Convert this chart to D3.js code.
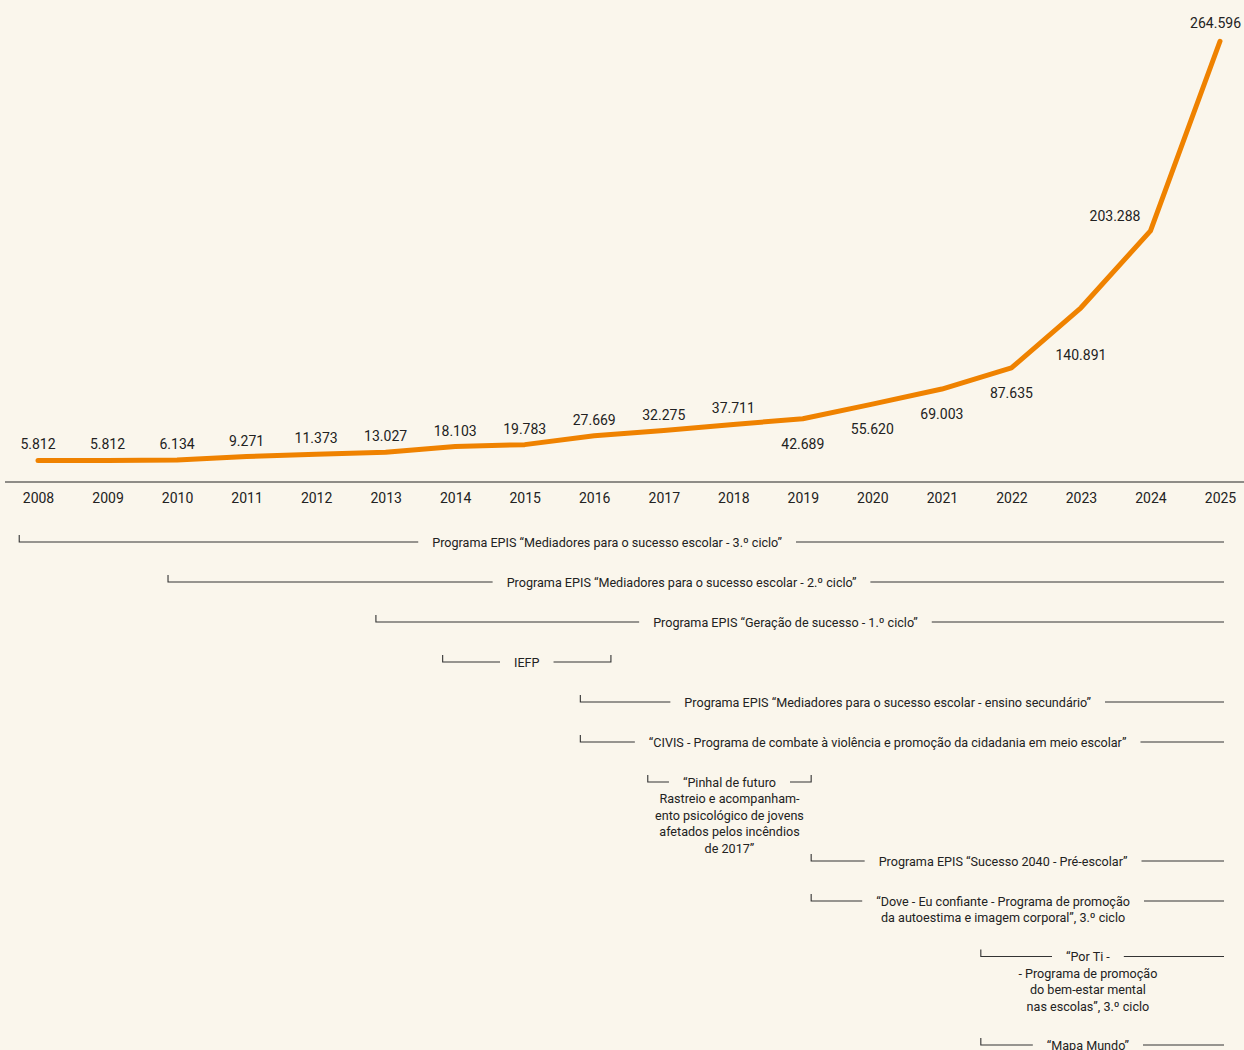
<!DOCTYPE html>
<html>
<head>
<meta charset="utf-8">
<script src="https://cdn.jsdelivr.net/npm/d3@7"></script>
<style>
  body { margin: 0; background: #faf6ec; }
  svg { display: block; }
  text { font-family: Roboto, "Noto Sans", sans-serif; fill: #222; }
</style>
</head>
<body>
<div class="chart"></div>
<script>
// yearly values
const years = [2008, 2009, 2010, 2011, 2012, 2013, 2014, 2015, 2016, 2017, 2018, 2019, 2020, 2021, 2022, 2023, 2024, 2025];
const values = [5812, 5812, 6134, 9271, 11373, 13027, 18103, 19783, 27669, 32275, 37711, 42689, 55620, 69003, 87635, 140891, 203288, 264596];

// programmes shown under the axis (start / end as fractional years, null = still running)
const programNames = [
  ['Programa EPIS “Mediadores para o sucesso escolar - 3.º ciclo”'],
  ['Programa EPIS “Mediadores para o sucesso escolar - 2.º ciclo”'],
  ['Programa EPIS “Geração de sucesso - 1.º ciclo”'],
  ['IEFP'],
  ['Programa EPIS “Mediadores para o sucesso escolar - ensino secundário”'],
  ['“CIVIS - Programa de combate à violência e promoção da cidadania em meio escolar”'],
  ['“Pinhal de futuro', 'Rastreio e acompanham-', 'ento psicológico de jovens', 'afetados pelos incêndios', 'de 2017”'],
  ['Programa EPIS “Sucesso 2040 - Pré-escolar”'],
  ['“Dove - Eu confiante - Programa de promoção', 'da autoestima e imagem corporal”, 3.º ciclo'],
  ['“Por Ti -', '- Programa de promoção', 'do bem-estar mental', 'nas escolas”, 3.º ciclo'],
  ['“Mapa Mundo”']
];
const programStart = [2007.73, 2009.87, 2012.86, 2013.82, 2015.8, 2015.8, 2016.77, 2019.12, 2019.12, 2021.56, 2021.56];
const programEnd = [null, null, null, 2016.24, null, null, 2019.12, null, null, null, null];

const width = 1244;
const height = 1050;

const fmt = d3.formatLocale({ decimal: ',', thousands: '.', grouping: [3], currency: ['€', ''] }).format(',d');

const svg = d3.select('.chart')
  .append('svg')
  .attr('width', width)
  .attr('height', height);

// scales
const x = d3.scalePoint().domain(years).range([38, 1220]);
const xYear = d3.scaleLinear().domain([2008, 2025]).range([38, 1220]);
// the last year is drawn stretched, as in the original graphic
const y = d3.scaleLinear().domain([0, 200000, 265000]).range([467, 241, 40]);

const data = years.map((yr, i) => ({ year: yr, value: values[i] }));

// axis
const axisY = 482;
const axis = svg.append('g')
  .attr('transform', `translate(0,${axisY})`)
  .call(d3.axisBottom(x).tickSize(0).tickPadding(11));
axis.select('.domain')
  .attr('d', `M5,0H${width}`)
  .attr('stroke', '#222')
  .attr('stroke-width', 1.2);
axis.selectAll('.tick text')
  .style('font-family', 'Roboto, sans-serif')
  .style('font-size', '14px')
  .attr('fill', '#222');

// the line
svg.append('path')
  .datum(data)
  .attr('fill', 'none')
  .attr('stroke', '#ef8200')
  .attr('stroke-width', 5)
  .attr('stroke-linejoin', 'round')
  .attr('stroke-linecap', 'round')
  .attr('d', d3.line().x(d => x(d.year)).y(d => y(d.value)));

// value labels
const labelPos = (d) => {
  if (d.year === 2025) return { dx: 21, dy: -13, anchor: 'end' };
  if (d.year === 2024) return { dx: -10, dy: -10, anchor: 'end' };
  if (d.year === 2023) return { dx: 0, dy: 52, anchor: 'middle' };
  if (d.year >= 2019) return { dx: 0, dy: 30, anchor: 'middle' };
  return { dx: 0, dy: -11, anchor: 'middle' };
};

svg.append('g')
  .selectAll('text')
  .data(data)
  .enter()
  .append('text')
  .attr('x', d => x(d.year) + labelPos(d).dx)
  .attr('y', d => y(d.value) + labelPos(d).dy)
  .attr('text-anchor', d => labelPos(d).anchor)
  .style('font-size', '14px')
  .text(d => fmt(d.value));

// programme timelines
const lineH = 16.5;
const gap = 14;
const tick = 7;
const rightEnd = width - 20;

let rowY = 542;
programNames.forEach((lines, i) => {
  const sx = xYear(programStart[i]);
  const ex = programEnd[i] === null ? rightEnd : xYear(programEnd[i]);
  const textEnd = programEnd[i] === null ? 1195 : ex;
  const cx = (sx + textEnd) / 2;

  const g = svg.append('g');

  const label = g.append('text')
    .attr('x', cx)
    .attr('y', rowY + 4.5)
    .attr('text-anchor', 'middle')
    .style('font-size', '12.6px');
  lines.forEach((t, k) => {
    label.append('tspan')
      .attr('x', cx)
      .attr('dy', k === 0 ? 0 : lineH)
      .text(t);
  });

  const firstW = label.select('tspan').node().getComputedTextLength();
  const left = cx - firstW / 2 - gap;
  const right = cx + firstW / 2 + gap;

  const path = d3.path();
  path.moveTo(sx, rowY - tick);
  path.lineTo(sx, rowY);
  path.lineTo(left, rowY);
  path.moveTo(right, rowY);
  path.lineTo(ex, rowY);
  if (programEnd[i] !== null) path.lineTo(ex, rowY - tick);

  g.append('path')
    .attr('d', path.toString())
    .attr('fill', 'none')
    .attr('stroke', '#333')
    .attr('stroke-width', 1.1);

  // next row: wrapped text pushes it down, unless the next one starts where this one ends
  const next = i + 1;
  if (lines.length > 1) {
    if (next < programNames.length && programEnd[i] !== null && programStart[next] >= programEnd[i]) {
      rowY += 79;
    } else {
      rowY += 39 + lineH * (lines.length - 1);
    }
  } else {
    rowY += 40;
  }
});
</script>
</body>
</html>
